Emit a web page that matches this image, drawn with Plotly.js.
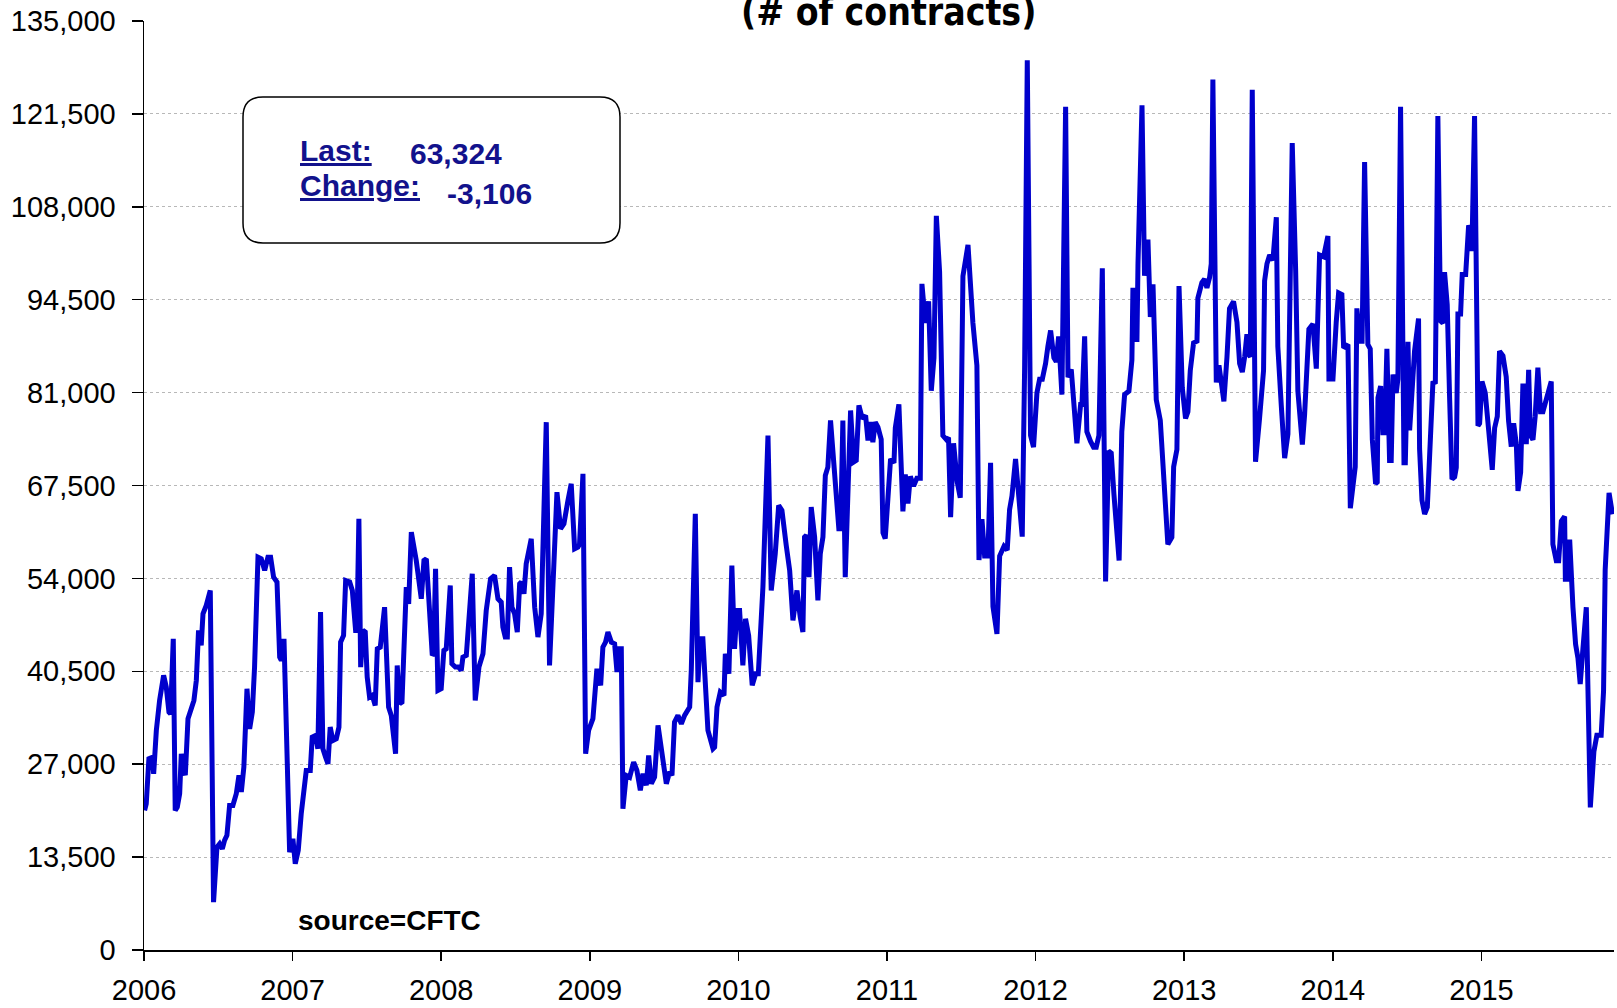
<!DOCTYPE html>
<html>
<head>
<meta charset="utf-8">
<script src="https://cdn.plot.ly/plotly-3.0.1.min.js"></script>
<style>
html,body{margin:0;padding:0;background:#fff;}
#chart{width:1617px;height:1008px;}
</style>
</head>
<body>
<div id="chart"></div>
<script>
// Weekly net positions (# of contracts)
const weekYear = [
2006.004,2006.015,2006.033,2006.056,2006.065,2006.083,2006.105,2006.132,2006.150,2006.168,2006.179,2006.197,2006.210,2006.224,2006.240,2006.251,2006.262,2006.278,2006.296,2006.318,2006.336,2006.352,2006.367,2006.385,2006.397,2006.419,2006.446,2006.468,2006.491,2006.509,2006.527,2006.542,2006.558,2006.576,2006.598,2006.621,2006.639,2006.655,2006.672,2006.693,2006.711,2006.729,2006.744,2006.767,2006.789,2006.812,2006.834,2006.852,2006.872,2006.895,2006.913,2006.924,2006.942,2006.980,
2007.002,2007.018,2007.038,2007.058,2007.074,2007.092,2007.119,2007.132,2007.155,2007.170,2007.188,2007.204,2007.222,2007.238,2007.253,2007.271,2007.294,2007.312,2007.323,2007.343,2007.357,2007.384,2007.402,2007.424,2007.433,2007.446,2007.458,2007.473,2007.489,2007.502,2007.518,2007.536,2007.556,2007.570,2007.590,2007.619,2007.646,2007.664,2007.693,2007.704,2007.720,2007.736,2007.765,2007.781,2007.799,2007.832,2007.866,2007.884,2007.900,2007.922,2007.940,2007.949,2007.962,2007.978,
2008.000,2008.018,2008.034,2008.061,2008.072,2008.095,2008.117,2008.135,2008.146,2008.169,2008.184,2008.209,2008.229,2008.254,2008.281,2008.303,2008.332,2008.359,2008.382,2008.404,2008.415,2008.431,2008.445,2008.460,2008.476,2008.494,2008.512,2008.528,2008.539,2008.557,2008.572,2008.606,2008.629,2008.651,2008.673,2008.707,2008.729,2008.752,2008.779,2008.803,2008.826,2008.853,2008.875,2008.898,2008.920,2008.931,2008.954,2008.972,2008.992,
2009.021,2009.048,2009.073,2009.088,2009.106,2009.122,2009.145,2009.167,2009.183,2009.196,2009.212,2009.223,2009.245,2009.268,2009.295,2009.317,2009.340,2009.358,2009.380,2009.396,2009.414,2009.436,2009.459,2009.488,2009.515,2009.537,2009.553,2009.570,2009.593,2009.616,2009.638,2009.672,2009.683,2009.710,2009.728,2009.743,2009.761,2009.795,2009.829,2009.840,2009.856,2009.878,2009.903,2009.912,2009.936,2009.956,2009.974,2009.990,
2010.008,2010.030,2010.048,2010.069,2010.093,2010.116,2010.134,2010.165,2010.199,2010.221,2010.248,2010.271,2010.293,2010.322,2010.345,2010.367,2010.394,2010.416,2010.434,2010.445,2010.457,2010.475,2010.490,2010.513,2010.535,2010.551,2010.569,2010.585,2010.602,2010.620,2010.647,2010.676,2010.688,2010.703,2010.719,2010.737,2010.755,2010.775,2010.793,2010.811,2010.834,2010.856,2010.872,2010.887,2010.905,2010.921,2010.939,2010.961,2010.973,2010.988,
2011.006,2011.024,2011.047,2011.056,2011.080,2011.107,2011.123,2011.141,2011.157,2011.179,2011.201,2011.224,2011.235,2011.258,2011.280,2011.298,2011.316,2011.332,2011.354,2011.376,2011.399,2011.414,2011.428,2011.448,2011.473,2011.493,2011.511,2011.545,2011.578,2011.605,2011.619,2011.639,2011.657,2011.679,2011.697,2011.713,2011.740,2011.758,2011.787,2011.809,2011.825,2011.841,2011.865,2011.886,2011.910,2011.926,2011.944,2011.966,2011.986,
2012.009,2012.027,2012.045,2012.067,2012.083,2012.101,2012.123,2012.139,2012.155,2012.177,2012.202,2012.218,2012.240,2012.258,2012.278,2012.303,2012.312,2012.330,2012.345,2012.370,2012.390,2012.408,2012.426,2012.449,2012.471,2012.491,2012.509,2012.527,2012.562,2012.580,2012.599,2012.628,2012.648,2012.655,2012.666,2012.682,2012.689,2012.716,2012.733,2012.756,2012.772,2012.790,2012.812,2012.839,2012.864,2012.890,2012.917,2012.929,2012.951,2012.965,2012.987,
2013.009,2013.025,2013.041,2013.063,2013.086,2013.092,2013.119,2013.137,2013.153,2013.171,2013.182,2013.193,2013.216,2013.234,2013.249,2013.267,2013.288,2013.305,2013.332,2013.355,2013.373,2013.391,2013.407,2013.422,2013.436,2013.445,2013.458,2013.480,2013.507,2013.534,2013.541,2013.557,2013.575,2013.597,2013.620,2013.630,2013.653,2013.676,2013.698,2013.714,2013.727,2013.750,2013.765,2013.795,2013.810,2013.839,2013.866,2013.889,2013.911,2013.938,2013.967,2013.974,
2014.001,2014.023,2014.039,2014.061,2014.073,2014.102,2014.118,2014.151,2014.162,2014.183,2014.197,2014.214,2014.236,2014.252,2014.266,2014.288,2014.299,2014.304,2014.322,2014.337,2014.349,2014.364,2014.382,2014.393,2014.405,2014.427,2014.438,2014.456,2014.479,2014.488,2014.506,2014.517,2014.528,2014.550,2014.577,2014.584,2014.600,2014.618,2014.636,2014.651,2014.674,2014.690,2014.707,2014.725,2014.741,2014.752,2014.770,2014.786,2014.802,2014.820,2014.831,2014.842,2014.860,2014.871,2014.894,2014.914,2014.927,2014.936,2014.954,2014.977,2014.988,
2015.004,2015.026,2015.049,2015.073,2015.089,2015.107,2015.122,2015.145,2015.167,2015.183,2015.201,2015.217,2015.235,2015.246,2015.264,2015.279,2015.291,2015.302,2015.318,2015.329,2015.347,2015.362,2015.380,2015.398,2015.414,2015.436,2015.470,2015.481,2015.504,2015.520,2015.538,2015.560,2015.565,2015.582,2015.594,2015.616,2015.634,2015.650,2015.665,2015.683,2015.706,2015.733,2015.757,2015.777,2015.806,2015.822,2015.833,2015.859,2015.882
];
const netContracts = [
20280,21250,27800,28000,25600,31900,36270,39900,38200,34570,34300,45230,20280,20760,22700,28520,26580,25400,33600,35060,36270,39170,46440,44260,48860,50070,52250,6960,14950,15430,14710,15940,16650,21010,21010,22700,25370,22960,26580,37960,32150,34570,41110,57090,56850,55160,57090,57090,54190,53480,42560,42080,45230,14230,
16170,12540,14470,19800,22220,26100,26100,30940,31180,29240,49100,29240,28030,27060,32390,30450,30700,32390,44740,45710,53700,53480,52250,46440,46440,62670,41110,46440,46200,39650,36750,37000,35540,43770,44010,49820,35300,34090,28520,41350,35790,36030,52730,50310,60720,56610,51040,56610,56850,49340,42800,43040,55400,37720,
37960,43530,43770,52970,41600,41110,41110,40620,42560,42800,46920,54670,36270,41110,43040,49340,53950,54430,51040,50550,46920,45470,45470,55640,49820,48860,46190,53220,53460,51770,56130,59760,49820,45470,48860,76700,41350,52730,66530,61210,61940,65330,67750,58310,58550,59000,69200,28520,31910,
33610,40870,38450,44010,44740,46190,44740,44500,40380,43770,43770,20530,25370,25100,27300,26080,23190,25620,23920,28270,24160,25130,32630,28520,24160,25860,25370,33120,34090,32870,34090,35300,40620,63390,38930,45230,45230,31910,29250,29490,35300,37470,37000,43050,40140,55880,43770,49340,
49340,41350,48130,45710,38450,40140,40140,52730,74770,52250,57580,64600,63870,58790,55160,47890,52250,48370,46200,60020,60270,54190,64360,60020,50800,57580,60020,68960,70170,76950,69440,61210,61210,76950,54190,67030,78400,70890,71140,79130,77200,77680,74050,76710,73800,76710,75980,74190,60630,59790,
65720,71370,70800,75890,79280,63740,69100,64880,68830,67420,68540,68540,96800,91150,94260,81270,86060,106690,98500,74760,74190,74470,62900,73640,67990,65720,97930,102450,91150,84930,56680,62610,57250,57250,70800,49900,45940,57250,58660,58100,64020,65990,71370,66280,60070,84370,129300,74760,73070,
80980,82950,82950,85220,87760,90030,86060,85490,89170,80700,122520,83240,84370,79570,73640,79280,79280,89170,75320,73910,73070,73070,74760,99060,53570,72500,72220,66280,56600,75300,80730,81220,85730,96230,88730,88730,99730,122750,97990,103240,91990,96740,79970,76980,69220,58960,59960,70220,72720,96480,81730,
77230,78230,84230,88230,88480,94740,96990,97490,96230,97740,99730,126510,82470,84970,82470,79730,86230,93240,94240,91230,85230,83980,86230,89480,86480,86230,125000,70960,77230,84230,97240,99730,100980,100230,106490,87730,79220,71470,74970,99240,117260,98740,81220,73460,77730,90230,90980,84480,100980,100730,103740,82980,
82980,91230,95490,95240,87490,87980,64210,70220,93240,88480,88480,114500,88000,87360,74160,67740,67980,80250,81950,75180,75180,87360,71120,71120,83630,80930,82970,122530,70790,70790,88370,75510,80600,87020,91760,72810,65370,63350,64350,73490,82620,82290,121180,91420,91090,98510,93780,80250,68420,68760,70110,92430,92430,98180,98180,105280,104610,101560,121180,76190,76530,
82620,80930,75510,69770,75850,77540,87020,86340,83300,76870,73150,76530,73490,66720,69430,81950,81950,73490,84300,74840,74160,77540,84640,78220,78220,80250,82620,58950,56580,56580,62330,62990,53880,53880,59630,49810,44400,42370,38650,43720,49810,20720,28840,31210,31210,37630,55230,66430,63324
];
const yearTicks = [2006,2007,2008,2009,2010,2011,2012,2013,2014,2015];
const yearLabels = ["2006","2007","2008","2009","2010","2011","2012","2013","2014","2015"];
const lastValue = "63,324";
const changeValue = "-3,106";
const subtitleText = "(# of contracts)";
const sourceText = "source=CFTC";

const W = 1617, H = 1008, ML = 144, MR = 3, MT = 21, MB = 58;
const PW = W - ML - MR, PH = H - MT - MB;
const px = x => (x - ML) / PW;          // pixel -> paper x
const py = y => (H - MB - y) / PH;      // pixel -> paper y

// rounded box
const bx0 = px(243), bx1 = px(620), by1 = py(97), by0 = py(243);
const rx = 20 / PW, ry = 20 / PH;
const boxPath = `M ${bx0+rx} ${by1} L ${bx1-rx} ${by1} Q ${bx1} ${by1} ${bx1} ${by1-ry} ` +
  `L ${bx1} ${by0+ry} Q ${bx1} ${by0} ${bx1-rx} ${by0} L ${bx0+rx} ${by0} ` +
  `Q ${bx0} ${by0} ${bx0} ${by0+ry} L ${bx0} ${by1-ry} Q ${bx0} ${by1} ${bx0+rx} ${by1} Z`;

const navy = '#12128c';
const boxFont = {family: 'Liberation Sans, Arial, sans-serif', size: 30, color: navy, weight: 'bold'};

const trace = {
  x: weekYear, y: netContracts, type: 'scatter', mode: 'lines',
  line: {color: '#0000cc', width: 5}, hoverinfo: 'skip', cliponaxis: true
};

const layout = {
  width: W, height: H,
  margin: {l: ML, r: MR, t: MT, b: MB, pad: 0},
  paper_bgcolor: '#fff', plot_bgcolor: '#fff',
  showlegend: false,
  font: {family: 'Liberation Sans, Arial, sans-serif', color: '#000'},
  xaxis: {
    range: [2006, 2006 + PW / 148.6], tickvals: yearTicks, ticktext: yearLabels,
    showgrid: false, zeroline: false, showline: true, linecolor: '#000', linewidth: 2,
    ticks: 'outside', ticklen: 9, tickwidth: 1.5, tickcolor: '#000',
    tickfont: {family: 'Liberation Sans, Arial, sans-serif', size: 29, color: '#000'},
    ticklabelstandoff: 4
  },
  yaxis: {
    range: [0, 135000], tick0: 0, dtick: 13500, tickformat: ',d',
    showgrid: true, gridcolor: '#b8b8b8', gridwidth: 1, griddash: 'dot',
    zeroline: false, showline: true, linecolor: '#000', linewidth: 1.5,
    ticks: 'outside', ticklen: 11, tickwidth: 1.5, tickcolor: '#000',
    tickfont: {family: 'Liberation Sans, Arial, sans-serif', size: 29, color: '#000'},
    ticklabelstandoff: 10
  },
  shapes: [
    {type: 'rect', xref: 'paper', yref: 'paper', x0: px(443), x1: px(1335), y0: 132000/135000, y1: 1.03,
     fillcolor: '#fff', line: {width: 0}, layer: 'above'},
    {type: 'path', xref: 'paper', yref: 'paper', path: boxPath,
     fillcolor: '#fff', line: {color: '#000', width: 1.5}, layer: 'above'}
  ],
  annotations: [
    {xref: 'paper', yref: 'paper', x: px(888), y: py(-11), xanchor: 'center', yanchor: 'top',
     text: '<b>' + subtitleText + '</b>', showarrow: false,
     font: {family: 'DejaVu Sans Condensed, Liberation Sans Narrow, sans-serif', size: 37, color: '#000'}},
    {xref: 'paper', yref: 'paper', x: px(298), y: py(132), xanchor: 'left', yanchor: 'top',
     text: '<b><u>Last:</u></b>', showarrow: false, font: boxFont},
    {xref: 'paper', yref: 'paper', x: px(408), y: py(135), xanchor: 'left', yanchor: 'top',
     text: '<b>' + lastValue + '</b>', showarrow: false, font: boxFont},
    {xref: 'paper', yref: 'paper', x: px(298), y: py(167), xanchor: 'left', yanchor: 'top',
     text: '<b><u>Change:</u></b>', showarrow: false, font: boxFont},
    {xref: 'paper', yref: 'paper', x: px(445), y: py(175), xanchor: 'left', yanchor: 'top',
     text: '<b>' + changeValue + '</b>', showarrow: false, font: boxFont},
    {xref: 'paper', yref: 'paper', x: px(296), y: py(903), xanchor: 'left', yanchor: 'top',
     text: '<b>' + sourceText + '</b>', showarrow: false,
     font: {family: 'Liberation Sans, Arial, sans-serif', size: 28, color: '#000'}}
  ]
};

Plotly.newPlot('chart', [trace], layout, {staticPlot: true, displayModeBar: false});
</script>
</body>
</html>
